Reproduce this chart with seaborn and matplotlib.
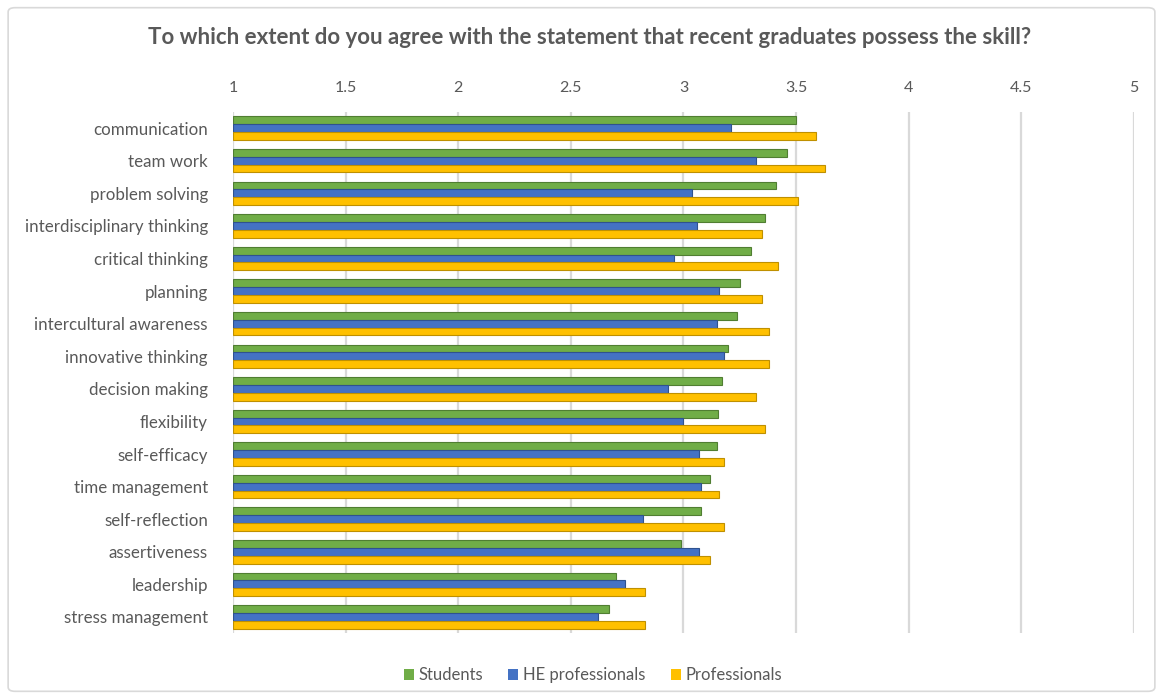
import matplotlib
matplotlib.use("Agg")
import matplotlib.pyplot as plt
from matplotlib.patches import FancyBboxPatch
import pandas as pd
import seaborn as sns

skills = [
    "communication", "team work", "problem solving", "interdisciplinary thinking",
    "critical thinking", "planning", "intercultural awareness", "innovative thinking",
    "decision making", "flexibility", "self-efficacy", "time management",
    "self-reflection", "assertiveness", "leadership", "stress management",
]
students = [3.50, 3.46, 3.41, 3.36, 3.30, 3.25, 3.24, 3.20,
            3.17, 3.155, 3.15, 3.12, 3.08, 2.99, 2.70, 2.67]
he_professionals = [3.21, 3.32, 3.04, 3.06, 2.96, 3.16, 3.15, 3.18,
                    2.93, 3.00, 3.07, 3.08, 2.82, 3.07, 2.74, 2.62]
professionals = [3.59, 3.63, 3.51, 3.35, 3.42, 3.35, 3.38, 3.38,
                 3.32, 3.36, 3.18, 3.16, 3.18, 3.12, 2.83, 2.83]
series_names = ["Students", "HE professionals", "Professionals"]
colors = ["#70AD47", "#4472C4", "#FFC000"]
edge_colors = ["#507E32", "#2F528F", "#BF9000"]
x_ticks = [1, 1.5, 2, 2.5, 3, 3.5, 4, 4.5, 5]

rows = []
for name, vals in zip(series_names, [students, he_professionals, professionals]):
    for skill, v in zip(skills, vals):
        rows.append({"skill": skill, "series": name, "score": v})
df = pd.DataFrame(rows)

sns.set_style("white")
plt.rcParams["font.family"] = ["Lato", "DejaVu Sans"]
text_color = "#595959"

fig = plt.figure(figsize=(11.63, 6.99), dpi=100)
ax = fig.add_axes([0.2003, 0.094, 0.7747, 0.746])

sns.barplot(data=df, y="skill", x="score", hue="series", order=skills,
            hue_order=series_names, palette=colors, orient="h", width=0.72,
            ax=ax, legend=False, saturation=1)

# darker outline for each series' bars
for container, ec in zip(ax.containers, edge_colors):
    for bar in container:
        bar.set_edgecolor(ec)
        bar.set_linewidth(0.8)
        # start bars at the axis minimum
        w = bar.get_width()
        bar.set_x(1)
        bar.set_width(w - 1)

ax.set_xlim(1, 5)
ax.set_ylim(15.5, -0.5)
ax.set_xticks(x_ticks)
ax.set_xticklabels([f"{t:g}" for t in x_ticks])
ax.xaxis.tick_top()
ax.tick_params(axis="x", length=0, pad=12, labelsize=11.5, labelcolor=text_color)
ax.tick_params(axis="y", length=0, pad=18, labelsize=12.2, labelcolor=text_color)
ax.set_xlabel("")
ax.set_ylabel("")
ax.grid(axis="x", color="#D9D9D9", linewidth=1.6)
ax.set_axisbelow(True)
for s in ax.spines.values():
    s.set_visible(False)

fig.text(0.507, 0.947, "To which extent do you agree with the statement that recent graduates possess the skill?",
         ha="center", va="center", fontsize=16, fontweight="bold", color=text_color)

handles = [plt.Rectangle((0, 0), 1, 1, facecolor=c, edgecolor="none") for c in colors]
fig.legend(handles, series_names, loc="center", bbox_to_anchor=(0.51, 0.034), ncol=3,
           frameon=False, fontsize=12, labelcolor=text_color, handlelength=0.6,
           handleheight=0.6, handletextpad=0.3, columnspacing=1.5)

border = FancyBboxPatch((0.007, 0.011), 0.986, 0.978, boxstyle="round,pad=0,rounding_size=0.006",
                        transform=fig.transFigure, facecolor="none", edgecolor="#D9D9D9",
                        linewidth=1.2, zorder=-1)
fig.patches.append(border)

fig.savefig("out.png", dpi=100, facecolor="white")
